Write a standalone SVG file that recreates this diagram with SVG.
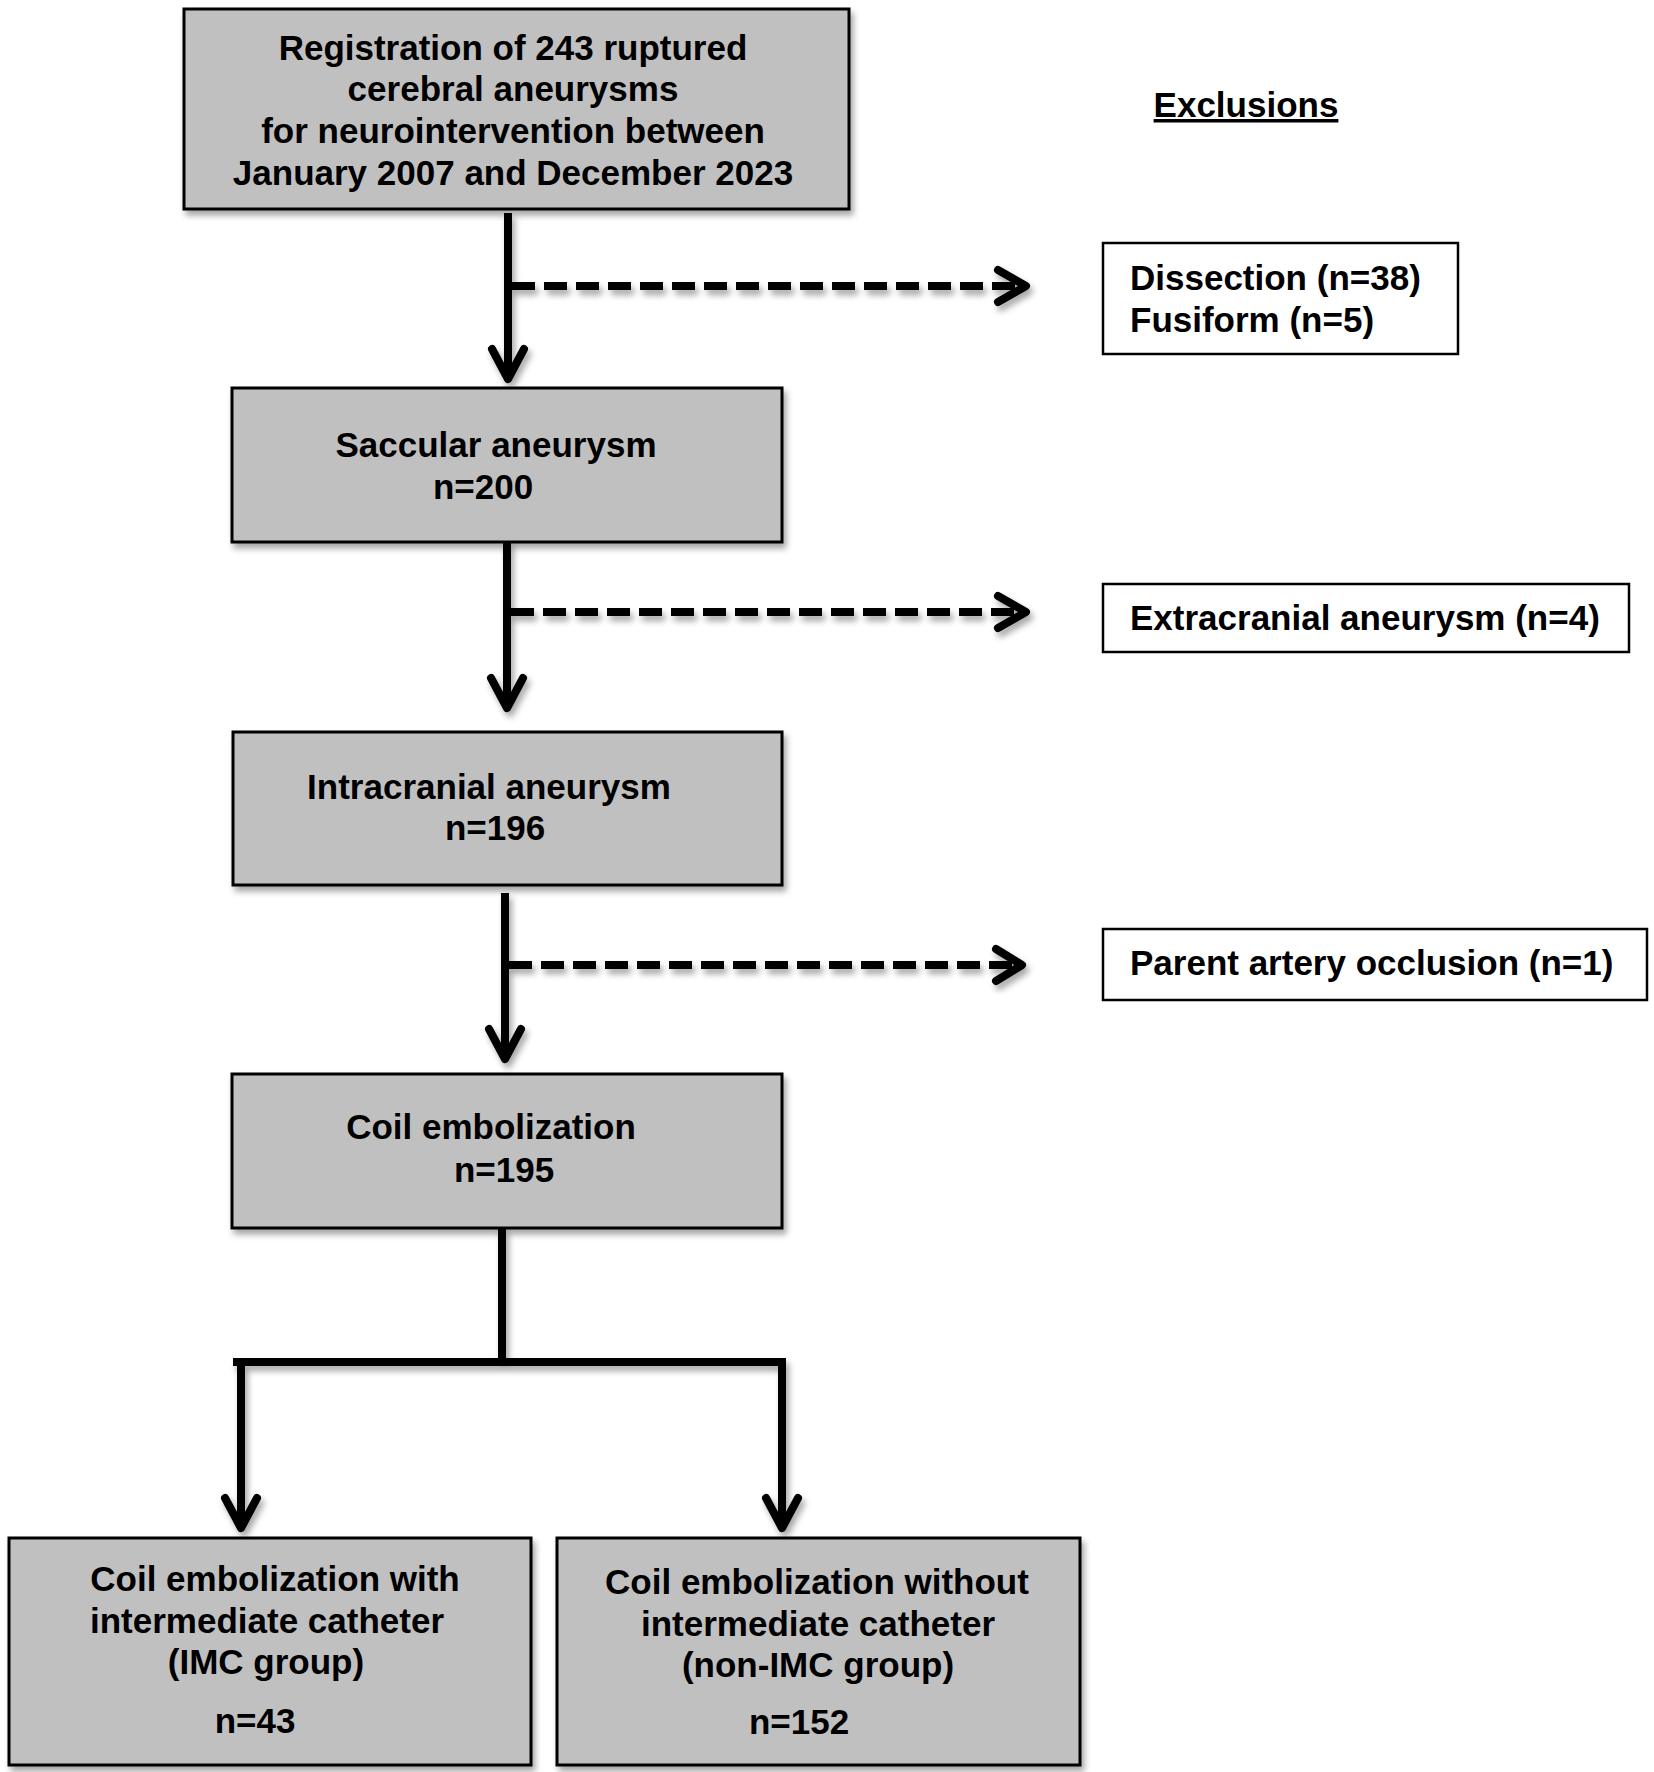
<svg xmlns="http://www.w3.org/2000/svg" width="1654" height="1772" viewBox="0 0 1654 1772">
<defs>
<filter id="sh" x="-10%" y="-10%" width="130%" height="140%">
<feDropShadow dx="3" dy="5" stdDeviation="3" flood-color="#000" flood-opacity="0.35"/>
</filter>
<style>
.gbox{fill:#c0c0c0;stroke:#000;stroke-width:3}
.wbox{fill:#fff;stroke:#000;stroke-width:2.5}
.t{font-family:"Liberation Sans",Arial,sans-serif;font-weight:bold;font-size:35px;fill:#000}
.c{text-anchor:middle}
.ln{fill:none;stroke:#000;stroke-width:8}
.ds{fill:none;stroke:#000;stroke-width:8;stroke-dasharray:23 9}
.ah{fill:none;stroke:#000;stroke-width:8;stroke-linecap:round;stroke-linejoin:round}
</style>
</defs>
<rect width="1654" height="1772" fill="#fff"/>

<g id="connectors" filter="url(#sh)">
<path class="ln" d="M508,213 V379"/>
<path class="ah" d="M492,349 L508,379 L524,349"/>
<path class="ds" d="M512,286 H1020"/>
<path class="ah" d="M998,270 L1026,286 L998,302"/>

<path class="ln" d="M507,542 V708"/>
<path class="ah" d="M491,678 L507,708 L523,678"/>
<path class="ds" d="M511,612 H1020"/>
<path class="ah" d="M998,596 L1026,612 L998,628"/>

<path class="ln" d="M505,893 V1059"/>
<path class="ah" d="M489,1029 L505,1059 L521,1029"/>
<path class="ds" d="M509,965 H1018"/>
<path class="ah" d="M996,949 L1022,965 L996,981"/>

<path class="ln" d="M502,1228 V1362"/>
<path class="ln" d="M233,1362 H786"/>
<path class="ln" d="M241,1358 V1528"/>
<path class="ah" d="M225,1498 L241,1528 L257,1498"/>
<path class="ln" d="M782,1358 V1528"/>
<path class="ah" d="M766,1498 L782,1528 L798,1498"/>
</g>

<g id="n-registration">
<rect class="gbox" x="184" y="9" width="665" height="200" filter="url(#sh)"/>
<text class="t c" x="513" y="60">Registration of 243 ruptured</text>
<text class="t c" x="513" y="101">cerebral aneurysms</text>
<text class="t c" x="513" y="143">for neurointervention between</text>
<text class="t c" x="513" y="185">January 2007 and December 2023</text>
</g>

<g id="n-exclusions-title">
<text class="t c" x="1246" y="117" text-decoration="underline">Exclusions</text>
</g>

<g id="n-ex1">
<rect class="wbox" x="1103" y="243" width="355" height="111"/>
<text class="t" x="1130" y="290">Dissection (n=38)</text>
<text class="t" x="1130" y="332">Fusiform (n=5)</text>
</g>

<g id="n-saccular">
<rect class="gbox" x="232" y="388" width="550" height="154" filter="url(#sh)"/>
<text class="t c" x="496" y="457">Saccular aneurysm</text>
<text class="t c" x="483" y="499">n=200</text>
</g>

<g id="n-ex2">
<rect class="wbox" x="1103" y="584" width="526" height="68"/>
<text class="t" x="1130" y="630">Extracranial aneurysm (n=4)</text>
</g>

<g id="n-intracranial">
<rect class="gbox" x="233" y="732" width="549" height="153" filter="url(#sh)"/>
<text class="t c" x="489" y="799">Intracranial aneurysm</text>
<text class="t c" x="495" y="840">n=196</text>
</g>

<g id="n-ex3">
<rect class="wbox" x="1103" y="929" width="544" height="71"/>
<text class="t" x="1130" y="975">Parent artery occlusion (n=1)</text>
</g>

<g id="n-coil">
<rect class="gbox" x="232" y="1074" width="550" height="154" filter="url(#sh)"/>
<text class="t c" x="491" y="1139">Coil embolization</text>
<text class="t c" x="504" y="1182">n=195</text>
</g>

<g id="n-imc">
<rect class="gbox" x="9" y="1538" width="522" height="227" filter="url(#sh)"/>
<text class="t c" x="275" y="1591">Coil embolization with</text>
<text class="t c" x="267" y="1633">intermediate catheter</text>
<text class="t c" x="266" y="1674">(IMC group)</text>
<text class="t c" x="255" y="1733">n=43</text>
</g>

<g id="n-nonimc">
<rect class="gbox" x="557" y="1538" width="523" height="227" filter="url(#sh)"/>
<text class="t c" x="817" y="1594">Coil embolization without</text>
<text class="t c" x="818" y="1636">intermediate catheter</text>
<text class="t c" x="818" y="1677">(non-IMC group)</text>
<text class="t c" x="799" y="1734">n=152</text>
</g>
</svg>
